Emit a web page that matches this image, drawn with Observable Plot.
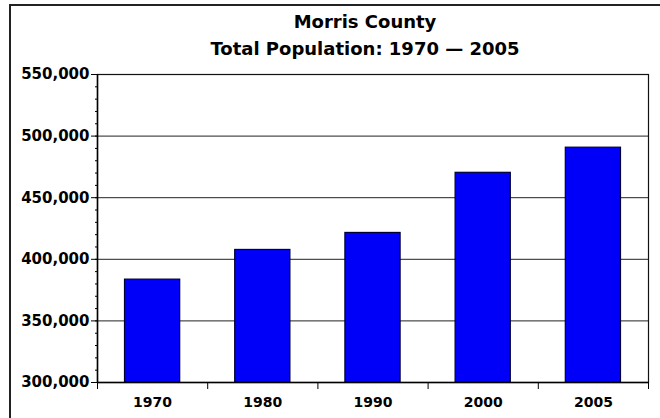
<!DOCTYPE html>
<html>
<head>
<meta charset="utf-8">
<script src="https://cdn.jsdelivr.net/npm/d3@7"></script>
<script src="https://cdn.jsdelivr.net/npm/@observablehq/plot@0.6"></script>
<style>
  html, body { margin: 0; padding: 0; background: #fff; }
  #wrap { position: relative; width: 660px; height: 418px; overflow: hidden; background: #fff; }
  #border { position: absolute; left: 9px; top: 4px; width: 700px; height: 500px; z-index: 5;
            pointer-events: none;
            border-left: 2px solid #222; border-top: 2px solid #222; box-sizing: border-box; }
  #title { position: relative; height: 62px; box-sizing: border-box; padding-top: 8px;
           font-family: "DejaVu Sans", Verdana, sans-serif; font-weight: bold; font-size: 18px;
           line-height: 27px; text-align: center; color: #000; width: 730px; }
  #chart { position: relative; }
  svg { display: block; }
</style>
</head>
<body>
<div id="wrap">
  <div id="border"></div>
  <div id="title"><div>Morris County</div><div>Total Population: 1970 — 2005</div></div>
  <div id="chart"></div>
</div>
<script>
// Data
const years = ["1970", "1980", "1990", "2000", "2005"];
const population = [383500, 407600, 421400, 470200, 490600];
const yTicks = [300000, 350000, 400000, 450000, 500000, 550000];
const yMinorTicks = d3.range(300000, 550001, 10000);

const data = years.map((y, i) => ({ year: y, i, value: population[i] }));
const boundaries = d3.range(0, years.length + 1);
const centers = years.map((_, i) => i + 0.5);

const chart = Plot.plot({
  width: 660,
  height: 356,
  marginTop: 12,
  marginBottom: 36,
  marginLeft: 97,
  marginRight: 12,
  style: { fontFamily: "DejaVu Sans, Verdana, sans-serif", fontWeight: "bold", fontSize: "14px", color: "#000", background: "transparent" },
  x: { type: "linear", domain: [0, years.length] },
  y: { domain: [yTicks[0], yTicks[yTicks.length - 1]] },
  marks: [
    Plot.ruleY(yTicks, { stroke: "#222", strokeWidth: 1, strokeOpacity: 1 }),
    Plot.rectY(data, {
      x1: "i", x2: d => d.i + 1, y1: yTicks[0], y2: "value",
      insetLeft: 27.5, insetRight: 27.5,
      fill: "#0000f8", stroke: "#000033", strokeWidth: 1.2
    }),
    Plot.frame({ stroke: "#111", strokeWidth: 1.2 }),
    Plot.axisY({ ticks: yTicks, tickFormat: d3.format(","), tickSize: 6, tickPadding: 2,
                 fontSize: 15, fontWeight: "bold", label: null, stroke: "#000" }),
    Plot.axisY({ ticks: yMinorTicks, tickFormat: () => "", tickSize: 2, label: null, stroke: "#000" }),
    Plot.axisX({ ticks: boundaries, tickFormat: () => "", tickSize: 7, label: null, stroke: "#000" }),
    Plot.axisX({ ticks: centers, tickFormat: d => years[Math.round(d - 0.5)], tickSize: 0,
                 tickPadding: 15, fontSize: 14, fontWeight: "bold", label: null }),
    Plot.ruleX([0], { stroke: "#000", strokeWidth: 1.5 }),
    Plot.ruleY([yTicks[0]], { stroke: "#000", strokeWidth: 1.5 })
  ]
});
document.getElementById("chart").appendChild(chart);
</script>
</body>
</html>
